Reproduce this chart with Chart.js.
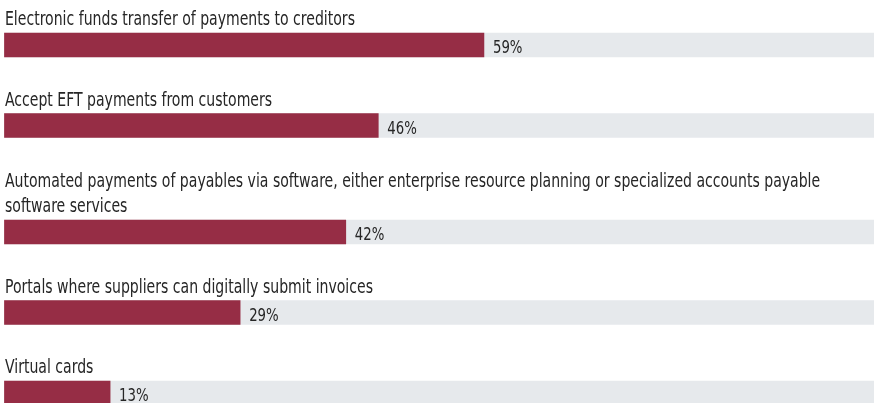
<!DOCTYPE html>
<html>
<head>
<meta charset="utf-8">
<script src="https://cdn.jsdelivr.net/npm/chart.js@4.4.1/dist/chart.umd.min.js"></script>
<style>
  html, body { margin: 0; padding: 0; background: #ffffff; }
  #wrap { position: relative; width: 874px; height: 403px; }
</style>
</head>
<body>
<div id="wrap"><canvas id="c"></canvas></div>
<script>
// ---- data ----
const categories = [
  ["Electronic funds transfer of payments to creditors"],
  ["Accept EFT payments from customers"],
  ["Automated payments of payables via software, either enterprise resource planning or specialized accounts payable", "software services"],
  ["Portals where suppliers can digitally submit invoices"],
  ["Virtual cards"]
];
const values = [59, 46, 42, 29, 13];
const valueLabels = ["59%", "46%", "42%", "29%", "13%"];

// ---- layout (derived from label line counts) ----
const ROW = 80.5, EXTRA_LINE = 26, FIRST_CENTER = 45;
const centers = [];
{
  let c = FIRST_CENTER;
  categories.forEach((lines, i) => {
    if (i > 0) c += ROW + (lines.length - 1) * EXTRA_LINE;
    centers.push(c);
  });
}
const X_MAX = 107;

const FONT_FAMILY = '"Liberation Sans Narrow", "DejaVu Sans Condensed", "Roboto", sans-serif';
const LABEL_FONT = '20px ' + FONT_FAMILY;
const VALUE_FONT = '18px ' + FONT_FAMILY;
const TEXT_COLOR = '#262626';

const labelPlugin = {
  id: 'rowLabels',
  afterDatasetsDraw(chart) {
    const ctx = chart.ctx;
    const meta = chart.getDatasetMeta(0);
    ctx.save();
    ctx.font = LABEL_FONT;
    const w0 = ctx.measureText(categories[0][0]).width;
    const sx = Math.min(1, 350 / w0);
    ctx.restore();
    const left = chart.scales.x.getPixelForValue(0);

    meta.data.forEach((bar, i) => {
      const p = bar.getProps(['x', 'y', 'base', 'height'], true);
      const top = p.y - p.height / 2;
      const lines = categories[i];
      ctx.save();
      ctx.fillStyle = TEXT_COLOR;
      ctx.font = LABEL_FONT;
      ctx.textBaseline = 'alphabetic';
      ctx.textAlign = 'left';
      lines.forEach((ln, j) => {
        const by = top - 8 - (lines.length - 1 - j) * 25;
        ctx.save();
        ctx.translate(left + 0.5, by);
        ctx.scale(sx, 1);
        ctx.fillText(ln, 0, 0);
        ctx.restore();
      });
      ctx.font = VALUE_FONT;
      ctx.save();
      ctx.translate(p.x + 9, top + 20);
      ctx.scale(sx * 1.05, 1);
      ctx.fillText(valueLabels[i], 0, 0);
      ctx.restore();
      ctx.restore();
    });
  }
};

new Chart(document.getElementById('c'), {
  type: 'bar',
  data: {
    datasets: [
      {
        data: values.map((v, i) => ({ x: v, y: centers[i] })),
        backgroundColor: '#962d45',
        barThickness: 24,
        grouped: false,
        order: 0
      },
      {
        data: values.map((v, i) => ({ x: X_MAX, y: centers[i] })),
        backgroundColor: '#e6e9ec',
        barThickness: 24,
        grouped: false,
        order: 1
      }
    ]
  },
  options: {
    indexAxis: 'y',
    responsive: true,
    maintainAspectRatio: false,
    animation: false,
    layout: { padding: 0 },
    plugins: { legend: { display: false }, tooltip: { enabled: false } },
    scales: {
      x: { type: 'linear', min: -0.55, max: X_MAX, display: false, offset: false, grace: 0 },
      y: { type: 'linear', min: 0, max: 403, reverse: true, display: false, offset: false, grace: 0 }
    }
  },
  plugins: [labelPlugin]
});
</script>
</body>
</html>
